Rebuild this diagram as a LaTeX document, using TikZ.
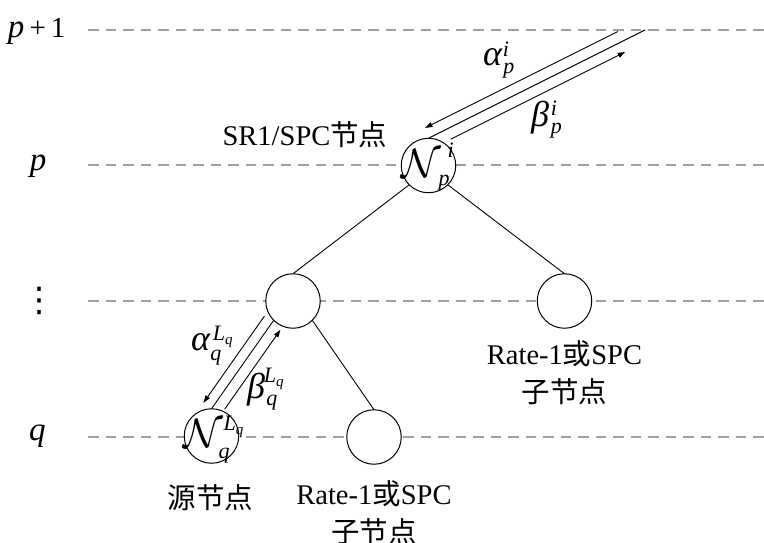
\documentclass[tikz,border=0pt]{standalone}
\usepackage{fontspec}
\setmainfont{Liberation Serif}
\newfontfamily\cjk{Noto Sans CJK SC}
\newfontfamily\symf{DejaVu Sans}
\usepackage{graphicx}
\usetikzlibrary{calc,arrows.meta}
\definecolor{levelgray}{RGB}{160,160,160}

% script letters and their placement
\newcommand{\scrsz}{\fontsize{22}{22}\selectfont\itshape}
\newcommand{\subsub}[1]{\raisebox{-4pt}{\fontsize{15}{15}\selectfont\itshape #1}}
% #1 sup kern, #2 sup raise, #3 sup, #4 sub kern, #5 sub lower, #6 sub
\newcommand{\supsub}[6]{{\scrsz\rlap{\hspace{#1}\raisebox{#2}{#3}}\hspace{#4}\raisebox{-#5}{#6}}}
\newcommand{\grk}[1]{{\fontsize{36}{40}\selectfont\itshape #1}}
\newcommand{\calN}{\scalebox{4.1}{\normalsize$\mathcal{N}$}}

\begin{document}
\begin{tikzpicture}[x=1pt,y=-1pt,
  every node/.style={font=\fontsize{28.5}{38}\selectfont, inner sep=0pt, outer sep=0pt},
  mathlabel/.style={font=\fontsize{33}{40}\selectfont, anchor=base west},
  levelline/.style={draw=levelgray, line width=1.3pt, dash pattern=on 10.5pt off 7pt},
  treenode/.style={circle, draw, line width=1pt, fill=white, minimum size=54.5pt},
  treeedge/.style={line width=0.9pt},
  flow/.style={line width=0.9pt, -{Triangle[length=7.5pt,width=5pt]}},
]
\useasboundingbox (0,0) rectangle (764,543);

% level guides
\foreach \yy in {30,165,301,437}
  \draw[levelline] (88,\yy) -- (764,\yy);

% level labels
\node[mathlabel] (lpp) at (8,37.5) {\itshape p\upshape\fontsize{29}{38}\selectfont\hspace{5pt}+\hspace{5pt}1};
\node[mathlabel] (lp) at (30,170) {\itshape p};
\node (ldots) at (39,301) {\fontsize{34}{40}\selectfont\symf ⋮};
\node[mathlabel] (lq) at (29,440) {\itshape q};

% tree nodes
\coordinate (tp) at (645,30);
\node[treenode] (np) at (428.5,165.5) {};
\node[treenode] (lc) at (293,301) {};
\node[treenode] (rc) at (564.5,301) {};
\node[treenode] (nq) at (211.5,436) {};
\node[treenode] (bm) at (374,437) {};

% tree edges
\draw[treeedge] (np.north) -- (tp);
\draw[treeedge] (np.south west) -- (lc.north);
\draw[treeedge] (np.south east) -- (rc.north);
\draw[treeedge] (lc.south west) -- (nq.north);
\draw[treeedge] (lc.south east) -- (bm.north);

% message flows
\draw[flow] ($(np.north)!217pt!(tp)!10.8pt!90:(tp)$) -- ($(np.north)!1.5pt!(tp)!10.8pt!90:(tp)$);
\draw[flow] ($(np.north)!19.5pt!(tp)!10.8pt!-90:(tp)$) -- ($(np.north)!214.5pt!(tp)!10.8pt!-90:(tp)$);
\draw[flow] ($(lc.south west)!2pt!(nq.north)!10pt!-90:(nq.north)$) -- ($(lc.south west)!108pt!(nq.north)!10pt!-90:(nq.north)$);
\draw[flow] ($(lc.south west)!101pt!(nq.north)!11pt!90:(nq.north)$) -- ($(lc.south west)!4pt!(nq.north)!11pt!90:(nq.north)$);

% node symbols
\node[mathlabel] (npsym) at (401,177) {\calN\supsub{7pt}{20pt}{i}{-2pt}{8pt}{p}};
\node[mathlabel] (nqsym) at (183,447) {\calN\supsub{1pt}{17pt}{L\subsub{q}}{-4pt}{11pt}{q}};

% message labels
\node[mathlabel] (alp) at (483,65.5) {\grk{α}\supsub{1pt}{9pt}{i}{1.5pt}{8pt}{p}};
\node[mathlabel] (bep) at (531,127) {\grk{β}\supsub{2pt}{11pt}{i}{2pt}{6pt}{p}};
\node[mathlabel] (alq) at (191,350) {\grk{α}\supsub{3pt}{10pt}{L\subsub{q}}{0.5pt}{10pt}{q}};
\node[mathlabel] (beq) at (247,398) {\grk{β}\supsub{-1pt}{16pt}{L\subsub{q}}{1.5pt}{7pt}{q}};

% node captions
\node[anchor=base] (capnp) at (305,146) {SR1/SPC{\cjk 节点}};
\node[anchor=base] (capnq) at (210.5,508) {\cjk 源节点};
\node[anchor=base, align=center] (caprc) at (564.5,402) {Rate-1{\cjk 或}SPC\\{\cjk 子节点}};
\node[anchor=base, align=center] (capbm) at (374,542) {Rate-1{\cjk 或}SPC\\{\cjk 子节点}};
\end{tikzpicture}
\end{document}
